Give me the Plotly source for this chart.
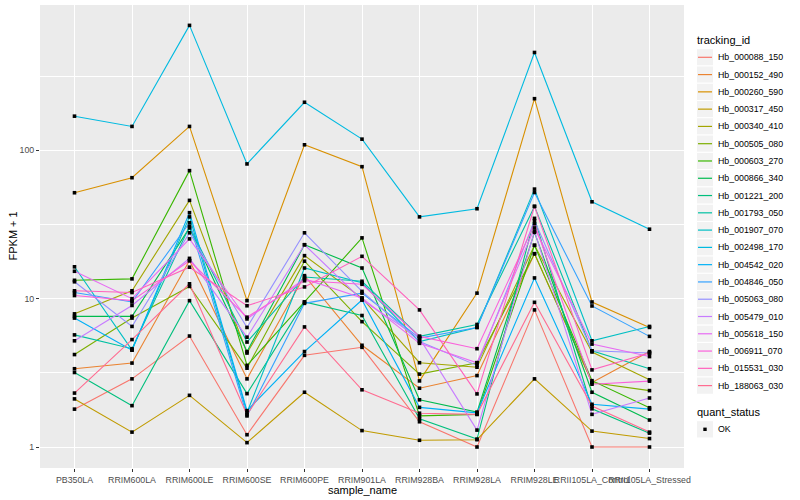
import plotly.graph_objects as go

samples = ["PB350LA", "RRIM600LA", "RRIM600LE", "RRIM600SE", "RRIM600PE", "RRIM901LA",
           "RRIM928BA", "RRIM928LA", "RRIM928LE", "RRII105LA_Control", "RRII105LA_Stressed"]

tracking_ids = ["Hb_000088_150", "Hb_000152_490", "Hb_000260_590", "Hb_000317_450", "Hb_000340_410",
                "Hb_000505_080", "Hb_000603_270", "Hb_000866_340", "Hb_001221_200", "Hb_001793_050",
                "Hb_001907_070", "Hb_002498_170", "Hb_004542_020", "Hb_004846_050", "Hb_005063_080",
                "Hb_005479_010", "Hb_005618_150", "Hb_006911_070", "Hb_015531_030", "Hb_188063_030"]

colors = ["#F8766D", "#EA8331", "#D89000", "#C09B00", "#A3A500", "#7CAE00", "#39B600", "#00BB4E",
          "#00BF7D", "#00C1A3", "#00BFC4", "#00BAE0", "#00B0F6", "#35A2FF", "#9590FF", "#C77CFF",
          "#E76BF3", "#FA62DB", "#FF62BC", "#FF6C91"]

y_tick_vals = [1, 10, 100]
y_tick_text = ["1", "10", "100"]

# FPKM + 1 values per tracking_id, one per sample
fpkm_000088_150 = [1.80, 2.88, 5.6, 1.21, 4.15, 4.7, 1.48, 1.0, 8.4, 1.0, 1.0]
fpkm_000152_490 = [3.37, 3.68, 18.1, 2.88, 14.3, 4.85, 2.49, 3.03, 20.1, 2.72, 4.4]
fpkm_000260_590 = [51.8, 65.4, 145, 9.7, 109, 77.6, 2.79, 10.9, 223, 9.5, 6.4]
fpkm_000317_450 = [2.11, 1.26, 2.23, 1.07, 2.34, 1.29, 1.11, 1.12, 2.88, 1.28, 1.14]
fpkm_000340_410 = [7.9, 11.3, 46, 4.3, 19.5, 10.1, 3.7, 3.45, 22.9, 4.37, 2.84]
fpkm_000505_080 = [4.2, 7.4, 12.1, 3.4, 17.9, 7.0, 3.1, 3.7, 20.1, 2.72, 2.4]
fpkm_000603_270 = [13.3, 13.6, 73, 3.55, 9.5, 25.7, 1.62, 1.66, 22.9, 2.80, 1.84]
fpkm_000866_340 = [7.6, 7.6, 30, 4.4, 23.1, 16.1, 2.08, 1.72, 28, 2.34, 1.52]
fpkm_001221_200 = [3.18, 1.9, 9.7, 2.29, 9.5, 7.7, 1.55, 1.13, 34.8, 1.81, 1.24]
fpkm_001793_050 = [5.7, 4.6, 30.7, 5.1, 14.0, 13.1, 5.57, 6.7, 41.9, 4.45, 3.37]
fpkm_001907_070 = [16.4, 4.5, 35.6, 1.71, 16.1, 12.8, 5.14, 6.4, 54.8, 5.2, 6.5]
fpkm_002498_170 = [170, 145, 696, 81, 211, 119, 35.6, 40.4, 457, 45, 29.4]
fpkm_004542_020 = [7.4, 4.5, 38, 1.76, 4.4, 9.8, 1.85, 1.70, 13.8, 1.94, 1.80]
fpkm_004846_050 = [11.0, 9.5, 32.5, 1.62, 9.3, 10.9, 5.42, 6.4, 52, 8.93, 5.57]
fpkm_005063_080 = [13.0, 6.5, 27.8, 6.4, 27.8, 11.2, 5.14, 3.55, 33.5, 4.45, 4.3]
fpkm_005479_010 = [5.2, 9.0, 18.7, 5.5, 23.1, 9.8, 5.42, 1.30, 28.5, 1.66, 2.14]
fpkm_005618_150 = [15.3, 10.0, 25.3, 7.3, 13.6, 10.1, 5.0, 3.7, 30, 4.94, 4.07]
fpkm_006911_070 = [10.5, 9.7, 18.0, 7.5, 13.2, 12.5, 5.57, 4.6, 32, 2.65, 2.78]
fpkm_015531_030 = [11.3, 11.0, 16.3, 8.96, 12.0, 19.3, 8.4, 2.28, 41.9, 3.31, 4.3]
fpkm_188063_030 = [2.31, 5.3, 12.6, 1.65, 6.45, 2.43, 1.69, 1.66, 9.45, 1.89, 1.26]

series = [fpkm_000088_150, fpkm_000152_490, fpkm_000260_590, fpkm_000317_450, fpkm_000340_410,
          fpkm_000505_080, fpkm_000603_270, fpkm_000866_340, fpkm_001221_200, fpkm_001793_050,
          fpkm_001907_070, fpkm_002498_170, fpkm_004542_020, fpkm_004846_050, fpkm_005063_080,
          fpkm_005479_010, fpkm_005618_150, fpkm_006911_070, fpkm_015531_030, fpkm_188063_030]

FONT = "Liberation Sans"
W, H = 800, 500
ML, MR, MT, MB = 40, 116, 5, 32
PW, PH = W - ML - MR, H - MT - MB


def px(x):
    return (x - ML) / PW


def py(y):
    return (H - MB - y) / PH


fig = go.Figure()

for tid, vals, col in zip(tracking_ids, series, colors):
    fig.add_trace(go.Scatter(x=samples, y=vals, mode="lines", name=tid,
                             line=dict(color=col, width=1.1), showlegend=False))

all_x, all_y = [], []
for vals in series:
    all_x.extend(samples)
    all_y.extend(vals)
fig.add_trace(go.Scatter(x=all_x, y=all_y, mode="markers", name="OK",
                         marker=dict(symbol="square", size=3.6, color="black"), showlegend=False))

# ---- ggplot-style legend drawn with shapes + text ----
shapes = []
annotations = []
KEY_L, KEY_R = 696.5, 713.5
TEXT_X = 715.5
annotations.append(dict(x=px(695), y=py(40.5), xref="paper", yref="paper", text="tracking_id",
                        showarrow=False, xanchor="left", yanchor="middle",
                        font=dict(size=11, color="black", family=FONT)))
for i, (tid, col) in enumerate(zip(tracking_ids, colors)):
    yc = 57.3 + i * 17.28
    shapes.append(dict(type="rect", xref="paper", yref="paper", x0=px(KEY_L), x1=px(KEY_R),
                       y0=py(yc - 8.64), y1=py(yc + 8.64), fillcolor="#F2F2F2",
                       line=dict(color="white", width=1), layer="above"))
    shapes.append(dict(type="line", xref="paper", yref="paper", x0=px(KEY_L + 1.5), x1=px(KEY_R - 1.5),
                       y0=py(yc), y1=py(yc), line=dict(color=col, width=1.2), layer="above"))
    annotations.append(dict(x=px(TEXT_X), y=py(yc), xref="paper", yref="paper", text=tid,
                            showarrow=False, xanchor="left", yanchor="middle",
                            font=dict(size=8.8, color="black", family=FONT)))

annotations.append(dict(x=px(695), y=py(412.3), xref="paper", yref="paper", text="quant_status",
                        showarrow=False, xanchor="left", yanchor="middle",
                        font=dict(size=11, color="black", family=FONT)))
yc = 429.3
shapes.append(dict(type="rect", xref="paper", yref="paper", x0=px(KEY_L), x1=px(KEY_R),
                   y0=py(yc - 8.64), y1=py(yc + 8.64), fillcolor="#F2F2F2",
                   line=dict(color="white", width=1), layer="above"))
shapes.append(dict(type="rect", xref="paper", yref="paper", x0=px(703.3), x1=px(706.7),
                   y0=py(yc - 1.7), y1=py(yc + 1.7), fillcolor="black",
                   line=dict(color="black", width=0), layer="above"))
annotations.append(dict(x=px(TEXT_X), y=py(yc), xref="paper", yref="paper", text="OK",
                        showarrow=False, xanchor="left", yanchor="middle",
                        font=dict(size=8.8, color="black", family=FONT)))

# axis titles
annotations.append(dict(x=0.5, y=py(489.5), xref="paper", yref="paper", text="sample_name",
                        showarrow=False, xanchor="center", yanchor="middle",
                        font=dict(size=11, color="black", family=FONT)))
annotations.append(dict(x=px(12), y=0.5, xref="paper", yref="paper", text="FPKM + 1",
                        showarrow=False, xanchor="center", yanchor="middle", textangle=-90,
                        font=dict(size=11, color="black", family=FONT)))

fig.update_layout(
    width=W, height=H,
    margin=dict(l=ML, r=MR, t=MT, b=MB),
    paper_bgcolor="white",
    plot_bgcolor="#EBEBEB",
    font=dict(family=FONT, size=9, color="black"),
    showlegend=False,
    shapes=shapes,
    annotations=annotations,
    xaxis=dict(
        type="category", categoryorder="array", categoryarray=samples,
        range=[-0.6, 10.6], showgrid=True, gridcolor="white", gridwidth=1.1,
        zeroline=False, showline=False, ticks="outside", ticklen=3, tickcolor="#333333",
        tickwidth=1, tickangle=0, automargin=False,
        tickfont=dict(size=8.8, color="#4D4D4D", family=FONT),
    ),
    yaxis=dict(
        type="log", range=[-0.1416, 2.98],
        tickmode="array", tickvals=y_tick_vals, ticktext=y_tick_text,
        showgrid=True, gridcolor="white", gridwidth=1.1, zeroline=False, showline=False,
        ticks="outside", ticklen=3, tickcolor="#333333", tickwidth=1, automargin=False,
        tickfont=dict(size=8.8, color="#4D4D4D", family=FONT),
        minor=dict(tickmode="array", tickvals=[3.1623, 31.623, 316.23], showgrid=True,
                   gridcolor="white", gridwidth=0.55, ticks=""),
    ),
)

fig.write_html("out.html", config={"displayModeBar": False},
               post_script="document.body.style.margin='0px';")
